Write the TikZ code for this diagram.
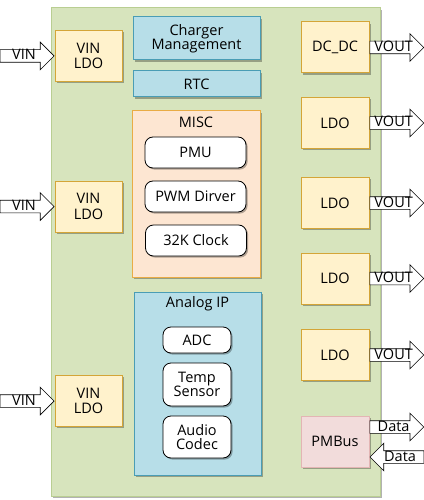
\documentclass[tikz,border=0pt]{standalone}
\usepackage{fontspec}
\setmainfont{Open Sans}
\usetikzlibrary{shapes.arrows,shadows}
\definecolor{boardfill}{HTML}{D7E4BD}
\definecolor{boardline}{HTML}{B9CE92}
\definecolor{ldofill}{HTML}{FFF2CC}
\definecolor{ldoline}{HTML}{D4A537}
\definecolor{bluefill}{HTML}{B7DEE8}
\definecolor{blueline}{HTML}{4A9DB5}
\definecolor{miscfill}{HTML}{FDE6D2}
\definecolor{miscline}{HTML}{E9AC45}
\definecolor{busfill}{HTML}{F2DCDB}
\definecolor{busline}{HTML}{E3B5B4}
\begin{document}
\begin{tikzpicture}[x=1pt,y=-1pt,
  font=\fontsize{14.5}{15.5}\selectfont,
  shade/.style={drop shadow={shadow xshift=1.6pt,shadow yshift=-1.6pt,opacity=0.3,fill=black}},
  ldobox/.style={draw=ldoline,fill=ldofill,line width=1pt,shade,minimum width=67pt,minimum height=51pt,align=center,inner sep=0pt},
  bluebox/.style={draw=blueline,fill=bluefill,line width=1pt,shade,minimum width=127pt,align=center,inner sep=0pt},
  subbox/.style={draw=black,fill=white,line width=0.8pt,rounded corners=8pt,shade,align=center,inner sep=0pt},
  busbox/.style={draw=busline,fill=busfill,line width=1pt,shade,minimum width=68pt,minimum height=51pt,inner sep=0pt},
  blockarrow/.style={single arrow,draw=black,fill=white,line width=0.6pt,inner xsep=1pt,inner ysep=0pt,
    text height=10pt,text depth=2pt,single arrow head extend=7.5pt,single arrow tip angle=90,minimum height=54pt}]
\useasboundingbox (0,0) rectangle (423,500);

% board
\fill[boardfill,shade] (51,8) rectangle (380,496);
\draw[boardline,line width=1pt] (51,8) rectangle (380,496);

% input regulators
\node (ldoA) [ldobox] at (88.5,56) {VIN\\LDO};
\node (ldoB) [ldobox] at (88.5,206.5) {VIN\\LDO};
\node (ldoC) [ldobox] at (88.5,401) {VIN\\LDO};
\node (vinA) [blockarrow,anchor=tip] at (ldoA.west) {VIN};
\node (vinB) [blockarrow,anchor=tip] at (ldoB.west) {VIN};
\node (vinC) [blockarrow,anchor=tip] at (ldoC.west) {VIN};

% middle column
\node (charger) [bluebox,minimum height=43pt] at (196.5,38.5) {Charger\\[-2pt]Management};
\node (rtc) [bluebox,minimum height=26pt] at (196.5,84) {RTC};

\node (misc) [draw=miscline,fill=miscfill,line width=1pt,shade,minimum width=128pt,minimum height=166pt] at (196,194) {};
\node (misctitle) at (196,122) {MISC};
\node (pmu) [subbox,minimum width=101pt,minimum height=31pt] at (195.5,152.5) {PMU};
\node (pwm) [subbox,minimum width=101pt,minimum height=31pt] at (195.5,196.5) {PWM Dirver};
\node (clock) [subbox,minimum width=101pt,minimum height=31pt] at (196,240.5) {32K Clock};

\node (analog) [bluebox,minimum height=183pt] at (197.5,383.5) {};
\node (analogtitle) at (197.5,304) {Analog IP};
\node (adc) [subbox,minimum width=68pt,minimum height=26pt] at (197,340) {ADC};
\node (temp) [subbox,minimum width=68pt,minimum height=43pt] at (197,384.5) {Temp\\[-2pt]Sensor};
\node (audio) [subbox,minimum width=68pt,minimum height=42pt] at (197,437) {Audio\\[-2pt]Codec};

% output regulators
\node (dcdc) [ldobox,minimum width=68pt] at (335,47.5) {DC\_DC};
\node (ldoD) [ldobox,minimum width=68pt] at (335,123) {LDO};
\node (ldoE) [ldobox,minimum width=68pt] at (335,203) {LDO};
\node (ldoF) [ldobox,minimum width=68pt] at (335,278.5) {LDO};
\node (ldoG) [ldobox,minimum width=68pt] at (335,355) {LDO};
\node (pmbus) [busbox] at (335,441.5) {PMBus};
\node (voutA) [blockarrow,anchor=tail] at (dcdc.east) {VOUT};
\node (voutB) [blockarrow,anchor=tail] at (ldoD.east) {VOUT};
\node (voutC) [blockarrow,anchor=tail] at (ldoE.east) {VOUT};
\node (voutD) [blockarrow,anchor=tail] at (ldoF.east) {VOUT};
\node (voutE) [blockarrow,anchor=tail] at (ldoG.east) {VOUT};
\node (dataout) [blockarrow,anchor=tail] at (pmbus.east |- 0,427) {Data};
\node (datain) [blockarrow,shape border rotate=180,anchor=tip] at (pmbus.east |- 0,457) {Data};
\end{tikzpicture}
\end{document}
